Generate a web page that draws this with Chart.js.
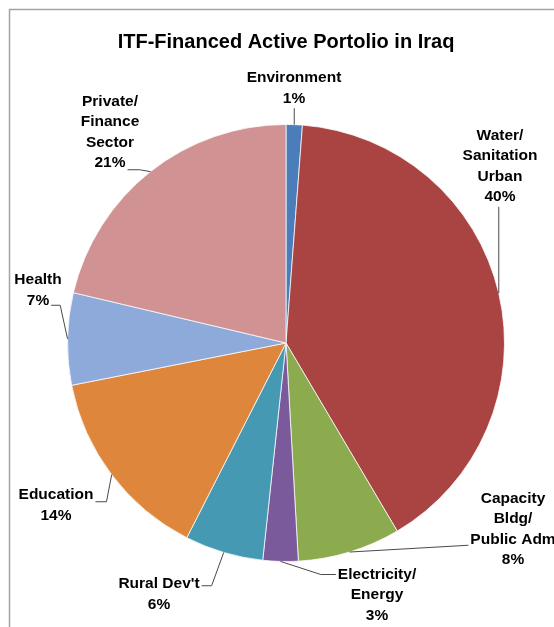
<!DOCTYPE html>
<html>
<head>
<meta charset="utf-8">
<script src="https://cdn.jsdelivr.net/npm/chart.js@4.4.1/dist/chart.umd.min.js"></script>
<style>
  html, body { margin: 0; padding: 0; background: #ffffff; }
  #wrap { width: 554px; height: 627px; position: relative; }
</style>
</head>
<body>
<div id="wrap"><canvas id="c" width="554" height="627"></canvas></div>
<script>
// ---- data ----
const chartTitle = 'ITF-Financed Active Portolio in Iraq';
const categories = [
  ['Environment'],
  ['Water/', 'Sanitation', 'Urban'],
  ['Capacity', 'Bldg/', 'Public Adm'],
  ['Electricity/', 'Energy'],
  ["Rural Dev't"],
  ['Education'],
  ['Health'],
  ['Private/', 'Finance', 'Sector']
];
const shares = [1.2, 40.3, 7.6, 2.6, 5.8, 14.4, 6.8, 21.3];
const sliceColors = ['#4A7DBA', '#A94442', '#8CAB4E', '#7B5A9B', '#4599B3', '#DE873C', '#8EAADB', '#D09292'];

// ---- label layout (offset of label block centre from pie centre, leader attachment) ----
const labelLayout = [
  { dx: 8,    dy: -255,  side: 'bottom' },
  { dx: 214,  dy: -177,  side: 'bottom' },
  { dx: 227,  dy: 186,   side: 'left',  line: 2, yOff: 6, elbow: 0 },
  { dx: 91,   dy: 252,   side: 'left',  line: 0, yOff: 0, elbow: 15 },
  { dx: -127, dy: 251,   side: 'right', line: 0, yOff: 2, elbow: 10 },
  { dx: -230, dy: 162,   side: 'right', line: 0, yOff: 7, elbow: 11 },
  { dx: -248, dy: -53,   side: 'right', line: 1, yOff: 5, elbow: 9 },
  { dx: -176, dy: -211,  side: 'right', line: 3, yOff: 7, elbow: 12 }
];
const FONT_FAMILY = '"Liberation Sans", Arial, sans-serif';
const LABEL_SIZE = 15.5;
const LINE_H = 20.5;

const framePlugin = {
  id: 'frame',
  beforeDraw(chart) {
    const ctx = chart.ctx;
    ctx.save();
    ctx.fillStyle = '#ffffff';
    ctx.fillRect(0, 0, chart.width, chart.height);
    ctx.strokeStyle = '#a3a3a3';
    ctx.lineWidth = 1.5;
    ctx.beginPath();
    ctx.moveTo(9.5, chart.height + 2);
    ctx.lineTo(9.5, 9.5);
    ctx.lineTo(chart.width + 2, 9.5);
    ctx.stroke();
    ctx.restore();
  }
};

const labelPlugin = {
  id: 'sliceLabels',
  afterDatasetsDraw(chart) {
    const ctx = chart.ctx;
    const meta = chart.getDatasetMeta(0);
    ctx.save();
    ctx.font = 'bold ' + LABEL_SIZE + 'px ' + FONT_FAMILY;
    ctx.fillStyle = '#000000';
    ctx.textAlign = 'center';
    ctx.textBaseline = 'middle';
    meta.data.forEach((arc, i) => {
      const p = arc.getProps(['x', 'y', 'startAngle', 'endAngle', 'outerRadius'], true);
      const mid = (p.startAngle + p.endAngle) / 2;
      const ex = p.x + Math.cos(mid) * p.outerRadius;
      const ey = p.y + Math.sin(mid) * p.outerRadius;
      const lay = labelLayout[i];
      const lines = categories[i].concat([Math.round(shares[i]) + '%']);
      const cx = p.x + lay.dx;
      const cy = p.y + lay.dy;
      const n = lines.length;
      const top = cy - (n - 1) * LINE_H / 2;
      lines.forEach((t, k) => ctx.fillText(t, cx, top + k * LINE_H));

      ctx.strokeStyle = '#4a4a4a';
      ctx.lineWidth = 1;
      ctx.beginPath();
      if (lay.side === 'bottom') {
        ctx.moveTo(ex, top + (n - 1) * LINE_H + 10);
        ctx.lineTo(ex, ey);
      } else {
        const w = ctx.measureText(lines[lay.line]).width;
        const ay = top + lay.line * LINE_H + lay.yOff;
        const ax = lay.side === 'left' ? cx - w / 2 - 2 : cx + w / 2 + 2;
        const bx = lay.side === 'left' ? ax - lay.elbow : ax + lay.elbow;
        ctx.moveTo(ax, ay);
        ctx.lineTo(bx, ay);
        ctx.lineTo(ex, ey);
      }
      ctx.stroke();
    });
    ctx.restore();
  }
};

new Chart(document.getElementById('c'), {
  type: 'pie',
  data: {
    labels: categories.map(c => c.join(' ')),
    datasets: [{
      data: shares,
      backgroundColor: sliceColors,
      borderColor: 'rgba(255,255,255,0.75)',
      borderWidth: 1
    }]
  },
  options: {
    responsive: false,
    animation: false,
    devicePixelRatio: 1,
    layout: { padding: { left: 67, right: 49, top: 0, bottom: 65 } },
    plugins: {
      legend: { display: false },
      tooltip: { enabled: false },
      title: {
        display: true,
        text: chartTitle,
        color: '#000000',
        font: { family: FONT_FAMILY, size: 20, weight: 'bold' },
        padding: { top: 30, bottom: 70 }
      }
    }
  },
  plugins: [framePlugin, labelPlugin]
});
</script>
</body>
</html>
